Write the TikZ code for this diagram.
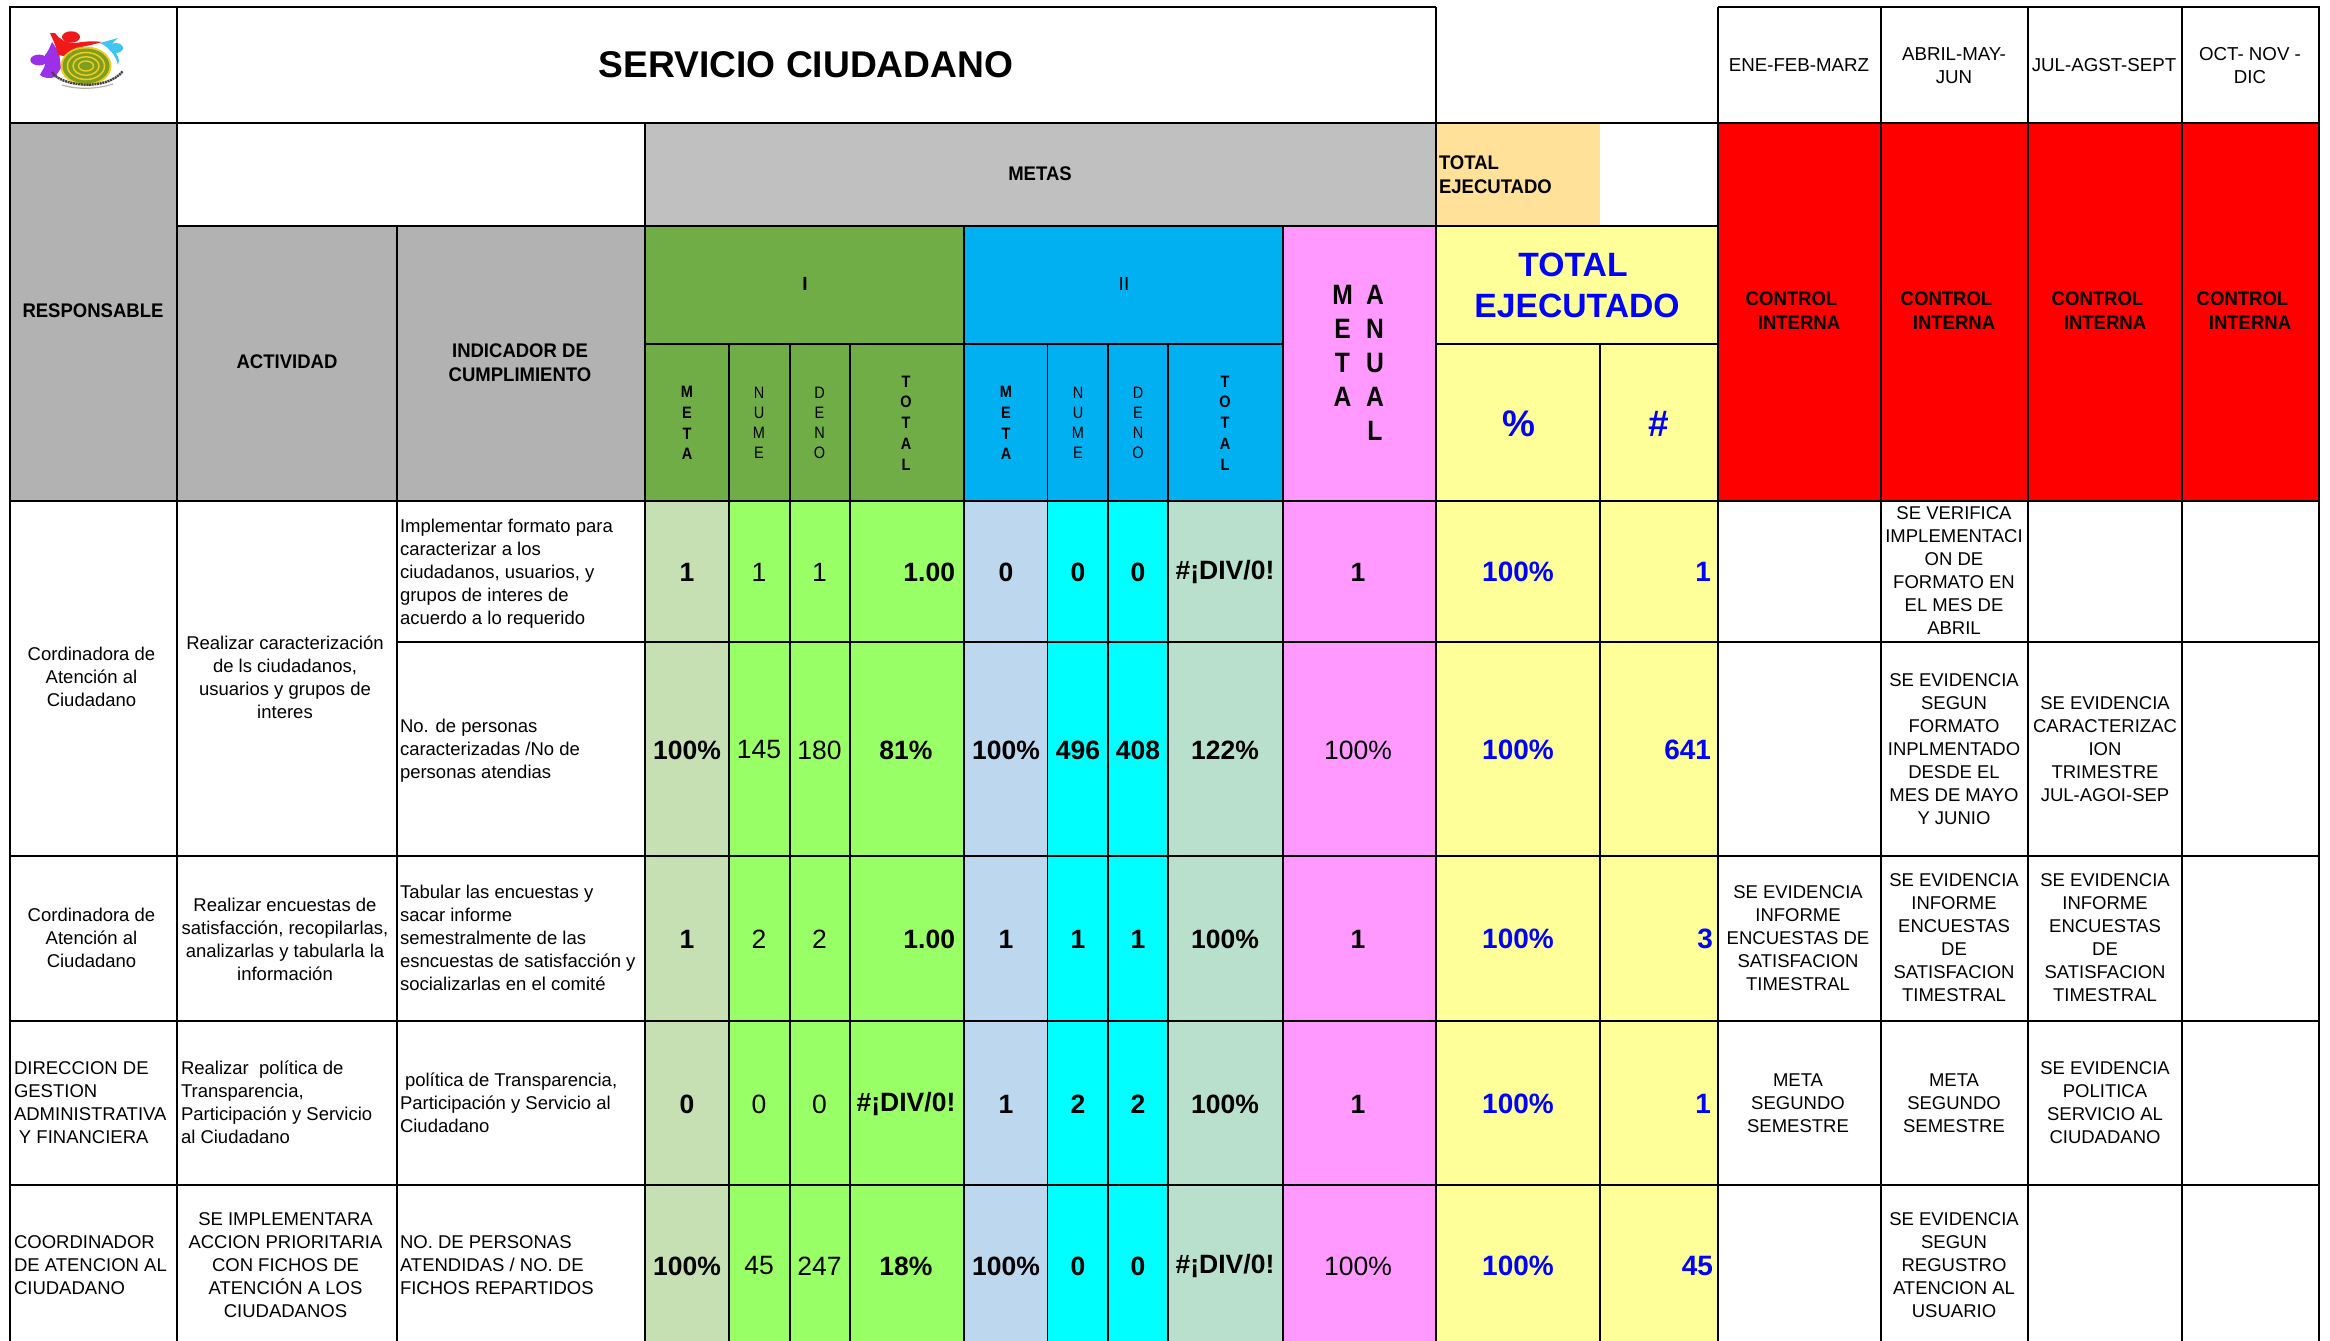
\documentclass[tikz,border=0pt]{standalone}
\usepackage{fontspec}
\setmainfont{Liberation Sans}
\newfontfamily\narrowf[FakeStretch=0.88]{Liberation Sans}
\newfontfamily\headf[FakeStretch=0.94]{Liberation Sans}
\definecolor{grisA}{HTML}{B2B2B2}
\definecolor{grisB}{HTML}{C0C0C0}
\definecolor{verdeH}{HTML}{70AD47}
\definecolor{azulH}{HTML}{00B0F0}
\definecolor{rosa}{HTML}{FF99FF}
\definecolor{amarillo}{HTML}{FFFF99}
\definecolor{naranja}{HTML}{FFE199}
\definecolor{verdeM}{HTML}{C6E0B4}
\definecolor{verdeN}{HTML}{99FF66}
\definecolor{azulM}{HTML}{BDD7EE}
\definecolor{cian}{HTML}{00FFFF}
\definecolor{verdeT}{HTML}{B8E0CC}
\definecolor{azulT}{HTML}{0000FF}
\definecolor{logoR}{HTML}{F01818}
\definecolor{logoP}{HTML}{9B30E8}
\definecolor{logoC}{HTML}{40C4F0}
\definecolor{logoG}{HTML}{7E9E20}
\definecolor{logoY}{HTML}{F0CC20}
\tikzset{
  x=1pt,y=-1pt,
  base/.style={inner sep=0pt,outer sep=0pt,align=center},
  body/.style={base,font=\fontsize{18.5}{23}\selectfont},
  bodyl/.style={base,align=left,anchor=west,font=\fontsize{18.5}{23}\selectfont},
  head/.style={base,font=\headf\fontsize{19.7}{24}\selectfont\bfseries},
  headr/.style={base,font=\fontsize{18.7}{23}\selectfont},
  bigv/.style={base,text=azulT,font=\fontsize{33.7}{41}\selectfont\bfseries},
  bigs/.style={base,text=azulT,font=\fontsize{37}{41}\selectfont\bfseries},
  stackb/.style={base,font=\narrowf\fontsize{16.5}{20.8}\selectfont\bfseries},
  stackr/.style={base,font=\narrowf\fontsize{16.5}{20}\selectfont},
  stackm/.style={base,font=\narrowf\fontsize{28}{34}\selectfont\bfseries},
  val/.style={base,font=\fontsize{26.5}{30}\selectfont},
  valb/.style={base,font=\fontsize{26.5}{30}\selectfont\bfseries},
  valr/.style={valb,anchor=east},
  valy/.style={base,text=azulT,font=\fontsize{28}{30}\selectfont\bfseries},
  valyr/.style={valy,anchor=east},
  major/.style={line width=2.4pt,black},
  minor/.style={line width=1.7pt,black}
}
\begin{document}
\begin{tikzpicture}
\useasboundingbox (0,0) rectangle (2330,1341);
\fill[white] (0,0) rectangle (2330,1341);
% header fills
\fill[grisA] (10,123) rectangle (177,501);
\fill[grisA] (177,226) rectangle (645,501);
\fill[grisB] (645,123) rectangle (1436,226);
\fill[verdeH] (645,226) rectangle (964,501);
\fill[azulH] (964,226) rectangle (1283,501);
\fill[rosa] (1283,226) rectangle (1436,1341);
\fill[naranja] (1436,123) rectangle (1600,226);
\fill[amarillo] (1436,226) rectangle (1718,1341);
\fill[red] (1718,123) rectangle (2319,501);
% body fills
\fill[verdeM] (645,501) rectangle (729,1341);
\fill[verdeN] (729,501) rectangle (964,1341);
\fill[azulM] (964,501) rectangle (1047.5,1341);
\fill[cian] (1047.5,501) rectangle (1168,1341);
\fill[verdeT] (1168,501) rectangle (1283,1341);
% logo
\begin{scope}
\fill[logoP] (39,60) ellipse (8.7 and 5.4);
\fill[logoP] (52,42) -- (59,52) -- (61,68) -- (55,77) .. controls (50,79) and (43,78) .. (40,75) .. controls (42,70) and (45,68) .. (45,64) .. controls (45,60) and (45,57) .. (45,55) .. controls (48,52) and (50,47) .. (52,42) -- cycle;
\fill[logoR] (71,37) ellipse (9 and 5.7);
\fill[logoR] (50,33) -- (55,33) .. controls (59,39) and (65,43) .. (76,43) .. controls (86,41) and (95,41) .. (102,42) .. controls (90,46) and (72,47) .. (64,56) -- (58,55) .. controls (57,48) and (53,40) .. (50,33) -- cycle;
\fill[logoC] (116,48) ellipse (7 and 5);
\fill[logoC] (118,38) -- (100,43) .. controls (109,47) and (116,56) .. (118,65) .. controls (120,60) and (119,55) .. (112,49) .. controls (110,46) and (113,42) .. (118,38) -- cycle;
\fill[logoY] (86,66) ellipse (25.5 and 19.5);
\fill[logoG] (86,66) ellipse (23.5 and 17.5);
\draw[logoY,line width=1.5pt] (86,66) ellipse (18.5 and 13.5);
\draw[logoY,line width=1.5pt] (86,66) ellipse (13 and 9.3);
\draw[logoY,line width=1.4pt] (86,66) ellipse (7.5 and 5);
\draw[black!75,line width=2.4pt,dash pattern=on 2pt off .7pt] (52,72) .. controls (60,86) and (106,92) .. (123,71);
\draw[black!30,line width=1.2pt] (62,85) .. controls (78,90) and (98,89) .. (113,84);
\end{scope}
% grid
\draw[major] (8.8,7) -- (1436,7);
\draw[major] (1718,7) -- (2320,7);
\draw[major] (10,123) -- (2320,123);
\draw[major] (177,226) -- (1718,226);
\draw[major] (645,344) -- (1283,344);
\draw[major] (1436,344) -- (1718,344);
\draw[major] (10,501) -- (2320,501);
\draw[minor] (397,642) -- (2320,642);
\draw[minor] (10,856) -- (2320,856);
\draw[minor] (10,1021) -- (2320,1021);
\draw[minor] (10,1185) -- (2320,1185);
\draw[major] (10,7) -- (10,1341);
\draw[major] (177,7) -- (177,1341);
\draw[major] (397,226) -- (397,1341);
\draw[major] (645,123) -- (645,1341);
\draw[minor] (729,344) -- (729,1341);
\draw[minor] (790,344) -- (790,1341);
\draw[minor] (850,344) -- (850,1341);
\draw[minor] (964,226) -- (964,1341);
\draw[minor] (1047.5,344) -- (1047.5,1341);
\draw[minor] (1108,344) -- (1108,1341);
\draw[minor] (1168,344) -- (1168,1341);
\draw[minor] (1283,226) -- (1283,1341);
\draw[major] (1436,7) -- (1436,1341);
\draw[minor] (1600,344) -- (1600,1341);
\draw[major] (1718,7) -- (1718,1341);
\draw[major] (1881,7) -- (1881,1341);
\draw[major] (2028,7) -- (2028,1341);
\draw[minor] (2182,7) -- (2182,1341);
\draw[major] (2319,7) -- (2319,1341);
% header text
\node[base,font=\fontsize{37.2}{44}\selectfont\bfseries] (titulo) at (806,65) {SERVICIO CIUDADANO};
\node[head] (resp) at (93,311) {RESPONSABLE};
\node[head] (activ) at (287,362) {ACTIVIDAD};
\node[head] (indic) at (520,363) {INDICADOR DE\\CUMPLIMIENTO};
\node[head] (metas) at (1040,174) {METAS};
\node[head,align=left,anchor=west] (totpeq) at (1439,175) {TOTAL\\EJECUTADO};
\node[bigv] (totgr) at (1577,285) {TOTAL\kern8pt\\EJECUTADO};
\node[bigs] (pct) at (1519,424) {\%};
\node[bigs] (num) at (1659,424) {\#};
\node[headr] (mes1) at (1799,65) {ENE-FEB-MARZ};
\node[headr] (mes2) at (1954,66) {ABRIL-MAY-\\JUN};
\node[headr] (mes3) at (2104,65) {JUL-AGST-SEPT};
\node[headr] (mes4) at (2250,66) {OCT- NOV -\\DIC};
\node[head] (ctl1) at (1799,311) {CONTROL\kern15pt\\INTERNA};
\node[head] (ctl2) at (1954,311) {CONTROL\kern15pt\\INTERNA};
\node[head] (ctl3) at (2105,311) {CONTROL\kern15pt\\INTERNA};
\node[head] (ctl4) at (2250,311) {CONTROL\kern15pt\\INTERNA};
\node[base,font=\fontsize{19}{24}\selectfont\bfseries] (per1) at (805,284) {I};
\node[base,font=\fontsize{19}{24}\selectfont] (per2) at (1124,284) {II};
\node[stackb] (m1) at (687,423) {M\\E\\T\\A};
\node[stackr] (n1) at (759,423) {N\\U\\M\\E};
\node[stackr] (d1) at (819.5,423) {D\\E\\N\\O};
\node[stackb] (t1) at (906,423) {T\\O\\T\\A\\L};
\node[stackb] (m2) at (1006,423) {M\\E\\T\\A};
\node[stackr] (n2) at (1078,423) {N\\U\\M\\E};
\node[stackr] (d2) at (1138,423) {D\\E\\N\\O};
\node[stackb] (t2) at (1225,423) {T\\O\\T\\A\\L};
\node[stackm] (metaA) at (1342.5,346) {M\\E\\T\\A};
\node[stackm] (anualA) at (1375,363) {A\\N\\U\\A\\L};
% column: responsable
\node[body] (r1a) at (91.5,677) {Cordinadora de\\Atención al\\Ciudadano};
\node[body] (r3a) at (91.5,938) {Cordinadora de\\Atención al\\Ciudadano};
\node[bodyl] (r4a) at (14,1103) {DIRECCION DE\\GESTION\\ADMINISTRATIVA\\\hspace*{5pt}Y FINANCIERA};
\node[bodyl] (r5a) at (14,1265) {COORDINADOR\\DE ATENCION AL\\CIUDADANO};
% column: actividad
\node[body] (r1b) at (285,677) {Realizar caracterización\\de ls ciudadanos,\\usuarios y grupos de\\interes};
\node[body] (r3b) at (285,939) {Realizar encuestas de\\satisfacción, recopilarlas,\\analizarlas y tabularla la\\información};
\node[bodyl] (r4b) at (181,1102) {Realizar\ \ política de\\Transparencia,\\Participación y Servicio\\al Ciudadano};
\node[body] (r5b) at (285.5,1265) {SE IMPLEMENTARA\\ACCION PRIORITARIA\\CON FICHOS DE\\ATENCIÓN A LOS\\CIUDADANOS};
% column: indicador
\node[bodyl] (r1c) at (400,574) {Implementar formato para\\caracterizar a los\\ciudadanos, usuarios, y\\grupos de interes de\\acuerdo a lo requerido};
\node[bodyl] (r2c) at (400,750.5) {No. de personas\\caracterizadas /No de\\personas atendias};
\node[bodyl] (r3c) at (400,938) {Tabular las encuestas y\\sacar informe\\semestralmente de las\\esncuestas de satisfacción y\\socializarlas en el comité};
\node[bodyl] (r4c) at (400,1103) {\hspace*{5pt}política de Transparencia,\\Participación y Servicio al\\Ciudadano};
\node[bodyl] (r5c) at (400,1265) {NO. DE PERSONAS\\ATENDIDAS / NO. DE\\FICHOS REPARTIDOS};
% row 1 values
\node[valb] (v1a) at (687,572) {1};
\node[val] (v1b) at (759,572) {1};
\node[val] (v1c) at (819.5,572) {1};
\node[valr] (v1d) at (955,572) {1.00};
\node[valb] (v1e) at (1006,572) {0};
\node[valb] (v1f) at (1078,572) {0};
\node[valb] (v1g) at (1138,572) {0};
\node[valb] (v1h) at (1225,572) {\#¡DIV/0!};
\node[valb] (v1i) at (1358,572) {1};
\node[valy] (v1j) at (1518,572) {100\%};
\node[valyr] (v1k) at (1711,572) {1};
% row 2 values
\node[valb] (v2a) at (687,750) {100\%};
\node[val] (v2b) at (759,750) {145};
\node[val] (v2c) at (819.5,750) {180};
\node[valb] (v2d) at (906,750) {81\%};
\node[valb] (v2e) at (1006,750) {100\%};
\node[valb] (v2f) at (1078,750) {496};
\node[valb] (v2g) at (1138,750) {408};
\node[valb] (v2h) at (1225,750) {122\%};
\node[val] (v2i) at (1358,750) {100\%};
\node[valy] (v2j) at (1518,750) {100\%};
\node[valyr] (v2k) at (1711,750) {641};
% row 3 values
\node[valb] (v3a) at (687,939) {1};
\node[val] (v3b) at (759,939) {2};
\node[val] (v3c) at (819.5,939) {2};
\node[valr] (v3d) at (955,939) {1.00};
\node[valb] (v3e) at (1006,939) {1};
\node[valb] (v3f) at (1078,939) {1};
\node[valb] (v3g) at (1138,939) {1};
\node[valb] (v3h) at (1225,939) {100\%};
\node[valb] (v3i) at (1358,939) {1};
\node[valy] (v3j) at (1518,939) {100\%};
\node[valyr] (v3k) at (1713,939) {3};
% row 4 values
\node[valb] (v4a) at (687,1104) {0};
\node[val] (v4b) at (759,1104) {0};
\node[val] (v4c) at (819.5,1104) {0};
\node[valb] (v4d) at (906,1104) {\#¡DIV/0!};
\node[valb] (v4e) at (1006,1104) {1};
\node[valb] (v4f) at (1078,1104) {2};
\node[valb] (v4g) at (1138,1104) {2};
\node[valb] (v4h) at (1225,1104) {100\%};
\node[valb] (v4i) at (1358,1104) {1};
\node[valy] (v4j) at (1518,1104) {100\%};
\node[valyr] (v4k) at (1711,1104) {1};
% row 5 values
\node[valb] (v5a) at (687,1266) {100\%};
\node[val] (v5b) at (759,1266) {45};
\node[val] (v5c) at (819.5,1266) {247};
\node[valb] (v5d) at (906,1266) {18\%};
\node[valb] (v5e) at (1006,1266) {100\%};
\node[valb] (v5f) at (1078,1266) {0};
\node[valb] (v5g) at (1138,1266) {0};
\node[valb] (v5h) at (1225,1266) {\#¡DIV/0!};
\node[val] (v5i) at (1358,1266) {100\%};
\node[valy] (v5j) at (1518,1266) {100\%};
\node[valyr] (v5k) at (1713,1266) {45};
% control columns
\node[body] (c1r3) at (1798,938) {SE EVIDENCIA\\INFORME\\ENCUESTAS DE\\SATISFACION\\TIMESTRAL};
\node[body] (c1r4) at (1798,1103) {META\\SEGUNDO\\SEMESTRE};
\node[body] (c2r1) at (1954,571) {SE VERIFICA\\IMPLEMENTACI\\ON DE\\FORMATO EN\\EL MES DE\\ABRIL};
\node[body] (c2r2) at (1954,749) {SE EVIDENCIA\\SEGUN\\FORMATO\\INPLMENTADO\\DESDE EL\\MES DE MAYO\\Y JUNIO};
\node[body] (c2r3) at (1954,938) {SE EVIDENCIA\\INFORME\\ENCUESTAS\\DE\\SATISFACION\\TIMESTRAL};
\node[body] (c2r4) at (1954,1103) {META\\SEGUNDO\\SEMESTRE};
\node[body] (c2r5) at (1954,1265) {SE EVIDENCIA\\SEGUN\\REGUSTRO\\ATENCION AL\\USUARIO};
\node[body] (c3r2) at (2105,749) {SE EVIDENCIA\\CARACTERIZAC\\ION\\TRIMESTRE\\JUL-AGOI-SEP};
\node[body] (c3r3) at (2105,938) {SE EVIDENCIA\\INFORME\\ENCUESTAS\\DE\\SATISFACION\\TIMESTRAL};
\node[body] (c3r4) at (2105,1103) {SE EVIDENCIA\\POLITICA\\SERVICIO AL\\CIUDADANO};
\end{tikzpicture}
\end{document}
